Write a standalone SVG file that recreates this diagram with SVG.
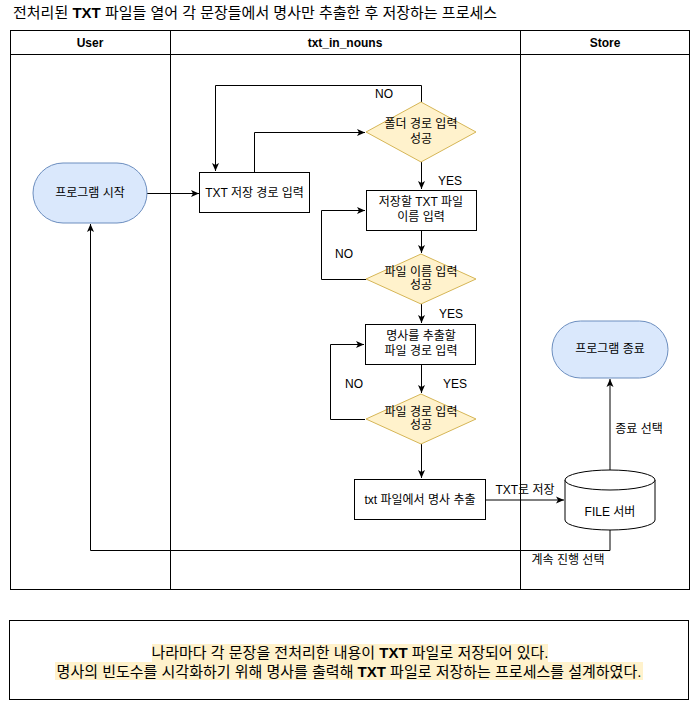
<svg xmlns="http://www.w3.org/2000/svg" width="691" height="701" viewBox="0 0 691 701">
<defs>
<style>
text{font-family:"Liberation Sans","Noto Sans CJK KR",sans-serif;fill:#000;}
.t12{font-size:12px;}
.c{text-anchor:middle;}
.hdr{font-size:12px;font-weight:bold;text-anchor:middle;}
.box{fill:#fff;stroke:#000;stroke-width:1;}
.term{fill:#dae8fc;stroke:#6c8ebf;stroke-width:1;}
.dec{fill:#fff2cc;stroke:#d6b656;stroke-width:1;}
.edge{fill:none;stroke:#000;stroke-width:1;marker-end:url(#arr);}
.lane{fill:none;stroke:#000;stroke-width:1;}
</style>
<marker id="arr" viewBox="0 0 10 8" refX="9" refY="4" markerWidth="10" markerHeight="8" orient="auto" markerUnits="userSpaceOnUse">
<path d="M1,0.5 L9,4 L1,7.5 L3,4 Z" fill="#000"/>
</marker>
</defs>
<rect width="691" height="701" fill="#fff"/>

<text x="13" y="17.5" style="font-size:15px">전처리된 <tspan font-weight="bold">TXT</tspan> 파일들 열어 각 문장들에서 명사만 추출한 후 저장하는 프로세스</text>

<g id="pool">
<rect class="lane" x="10.5" y="30.5" width="679" height="559"/>
<line class="lane" x1="10" y1="54.5" x2="690" y2="54.5"/>
<line class="lane" x1="170.5" y1="30" x2="170.5" y2="590"/>
<line class="lane" x1="520.5" y1="30" x2="520.5" y2="590"/>
<text class="hdr" x="90" y="47">User</text>
<text class="hdr" x="345" y="47">txt_in_nouns</text>
<text class="hdr" x="605" y="47">Store</text>
</g>

<g id="edges">
<path class="edge" d="M146,193.5 H199"/>
<path class="edge" d="M254.5,172 V132.5 H365"/>
<path class="edge" d="M421.5,102 V85.5 H215.5 V171"/>
<path class="edge" d="M421.5,162 V189"/>
<path class="edge" d="M421.5,230 V253"/>
<path class="edge" d="M366,279.5 H321.5 V210.5 H365"/>
<path class="edge" d="M421.5,304 V323"/>
<path class="edge" d="M421.5,364 V393"/>
<path class="edge" d="M365,419.5 H330.5 V344.5 H364"/>
<path class="edge" d="M421.5,444 V478"/>
<path class="edge" d="M486,500 H564"/>
<path class="edge" d="M610,470 V379"/>
<path class="edge" d="M610,530 V550.5 H90.5 V224"/>
<text class="t12 c" x="384" y="98">NO</text>
<text class="t12 c" x="450" y="185">YES</text>
<text class="t12 c" x="344" y="258">NO</text>
<text class="t12 c" x="451" y="318">YES</text>
<text class="t12 c" x="455" y="388">YES</text>
<text class="t12 c" x="354" y="388">NO</text>
<text class="t12 c" x="639" y="433">종료 선택</text>
<text class="t12 c" x="525" y="494">TXT로 저장</text>
<text class="t12 c" x="568" y="564">계속 진행 선택</text>
</g>

<g id="start">
<rect class="term" x="33" y="163" width="114" height="60" rx="30" ry="30"/>
<text class="t12 c" x="90" y="197">프로그램 시작</text>
</g>

<g id="box1">
<rect class="box" x="199.5" y="172.5" width="110" height="40"/>
<text class="t12 c" x="254.5" y="197">TXT 저장 경로 입력</text>
</g>

<g id="dec1">
<polygon class="dec" points="421,102 476,132 421,162 366,132"/>
<text class="t12 c" x="421" y="128">폴더 경로 입력</text>
<text class="t12 c" x="421" y="143">성공</text>
</g>

<g id="box2">
<rect class="box" x="366.5" y="190.5" width="110" height="40"/>
<text class="t12 c" x="421" y="206">저장할 TXT 파일</text>
<text class="t12 c" x="421" y="221">이름 입력</text>
</g>

<g id="dec2">
<polygon class="dec" points="421,254 476,279 421,304 366,279"/>
<text class="t12 c" x="421" y="276">파일 이름 입력</text>
<text class="t12 c" x="421" y="289">성공</text>
</g>

<g id="box3">
<rect class="box" x="365.5" y="324.5" width="110" height="40"/>
<text class="t12 c" x="421" y="340">명사를 추출할</text>
<text class="t12 c" x="421" y="355">파일 경로 입력</text>
</g>

<g id="dec3">
<polygon class="dec" points="421,394 476,419 421,444 366,419"/>
<text class="t12 c" x="421" y="416">파일 경로 입력</text>
<text class="t12 c" x="421" y="429">성공</text>
</g>

<g id="box4">
<rect class="box" x="354.5" y="479.5" width="131" height="40"/>
<text class="t12 c" x="420" y="504">txt 파일에서 명사 추출</text>
</g>

<g id="store">
<path class="box" d="M565,480 A45,10 0 0 1 655,480 V520 A45,10 0 0 1 565,520 Z"/>
<path class="box" d="M565,480 A45,10 0 0 0 655,480" fill="none"/>
<text class="t12 c" x="610" y="516">FILE 서버</text>
</g>

<g id="end">
<rect class="term" x="552" y="321" width="116" height="57" rx="28.5" ry="28.5"/>
<text class="t12 c" x="610" y="353">프로그램 종료</text>
</g>

<g id="note">
<rect class="box" x="9.5" y="620.5" width="679" height="79"/>
<rect x="152" y="644" width="396" height="18" fill="#fff2cc"/>
<rect x="55" y="662" width="588" height="18" fill="#fff2cc"/>
<text x="350" y="657.5" style="font-size:15px;text-anchor:middle">나라마다 각 문장을 전처리한 내용이 <tspan font-weight="bold">TXT</tspan> 파일로 저장되어 있다.</text>
<text x="349" y="676.5" style="font-size:15px;text-anchor:middle">명사의 빈도수를 시각화하기 위해 명사를 출력해 <tspan font-weight="bold">TXT</tspan> 파일로 저장하는 프로세스를 설계하였다.</text>
</g>
</svg>
